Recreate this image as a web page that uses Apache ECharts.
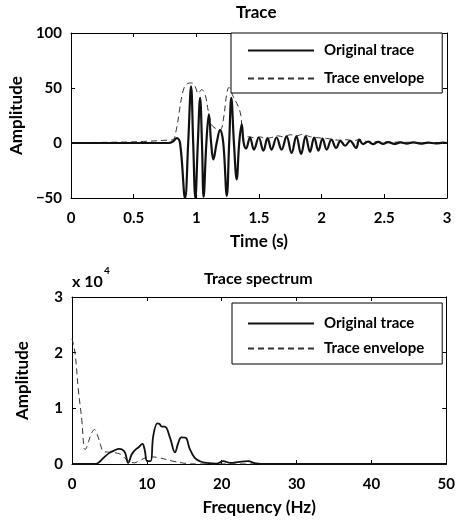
<!DOCTYPE html>
<html>
<head>
<meta charset="utf-8">
<script src="https://cdn.jsdelivr.net/npm/echarts@6/dist/echarts.min.js"></script>
<style>
html,body{margin:0;padding:0;background:#fff;}
#chart{width:458px;height:523px;}
</style>
</head>
<body>
<div id="chart"></div>
<script>
// ---- Top panel: trace (time in s, amplitude) ----
var origTime = [0, 0.78, 0.815, 0.843, 0.87, 0.91, 0.935, 0.958, 0.975, 0.992, 1.012, 1.03, 1.045, 1.058, 1.08, 1.10, 1.118, 1.136, 1.162, 1.19, 1.215, 1.243, 1.262, 1.279, 1.30, 1.322, 1.342, 1.362, 1.378, 1.397, 1.428, 1.46, 1.498, 1.535, 1.568, 1.60, 1.64, 1.68, 1.72, 1.76, 1.798, 1.836, 1.872, 1.907, 1.94, 1.974, 2.007, 2.04, 2.078, 2.115, 2.15, 2.187, 2.227, 2.275, 2.30, 2.33, 2.37, 2.41, 2.45, 2.49, 2.53, 2.58, 2.63, 2.68, 2.73, 2.79, 2.85, 2.91, 2.97, 3.0];
var origAmp = [0, 0, 1.5, 4.5, 0, -50, 0, 51.5, 0, -50, 0, 41, 0, -49, 0, 26, 0, -15, 0, 12, 0, -48, 0, 41, 0, -33, 0, 17, 0, -5, 5, -6, 5, -7, 4.5, -6, 5, -6, 6, -9, 6, -10, 6, -8, 5, -7, 4, -6, 3, -4.5, 2, -2.5, 2, -4.5, 3, -1, 1.2, -1, 1, -0.8, 0.8, -0.8, 0.6, -0.6, 0.5, -0.5, 0.4, -0.4, 0.3, 0];
var envTime = [0, 0.4, 0.6, 0.75, 0.81, 0.84, 0.87, 0.896, 0.923, 0.963, 0.99, 1.016, 1.043, 1.07, 1.096, 1.123, 1.149, 1.19, 1.215, 1.243, 1.26, 1.295, 1.335, 1.355, 1.37, 1.39, 1.43, 1.47, 1.51, 1.55, 1.6, 1.65, 1.7, 1.75, 1.8, 1.85, 1.9, 1.95, 2.0, 2.05, 2.1, 2.15, 2.2, 2.25, 2.3, 2.35, 2.45, 2.6, 2.8, 3.0];
var envAmp = [0.3, 0.8, 1.5, 2.5, 3, 12, 33, 48, 53.6, 54.6, 51.5, 45, 48.5, 44, 28.7, 16.6, 13.6, 12, 21, 45, 50.5, 42, 33, 25, 8, 6, 5.5, 4.5, 5.5, 4, 5, 6.5, 5.5, 7.5, 6.5, 8, 6, 5, 4.5, 4, 3, 2.5, 3, 2, 3, 1.5, 1, 0.8, 0.5, 0.4];

// ---- Bottom panel: spectrum (frequency in Hz, amplitude) ----
var specFreq = [0, 3.0, 3.5, 4.2, 5.0, 5.6, 6.3, 6.7, 7.1, 7.5, 8.0, 8.5, 8.9, 9.4, 9.7, 10.05, 10.5, 10.85, 11.4, 11.7, 12.0, 12.4, 13.1, 13.75, 14.2, 14.6, 15.2, 15.7, 16.4, 17.1, 18.0, 19.3, 20.2, 21.1, 22.4, 23.5, 24.6, 26, 50];
var specOrig = [0, 0, 200, 1100, 2000, 2400, 2700, 2600, 2000, 200, 1800, 2600, 3000, 3600, 2600, 500, 500, 5000, 7300, 7200, 6700, 6700, 4700, 2100, 3800, 4800, 4700, 2800, 1100, 500, 200, 50, 500, 200, 400, 500, 100, 0, 0];
var envFreq = [0, 0.4, 0.85, 1.3, 1.6, 1.75, 2.2, 2.6, 3.0, 3.4, 3.8, 4.2, 5.1, 6.4, 7.3, 8.3, 9.0, 10.4, 11.7, 13.5, 15.3, 17, 50];
var specEnv = [22500, 20000, 13300, 8000, 2900, 2600, 4000, 5500, 6200, 5200, 3500, 2300, 2100, 1800, 800, 200, 600, 1300, 1100, 500, 100, 0, 0];

var yTicksTop = [-50, 0, 50, 100];
var seriesNames = ['Original trace', 'Trace envelope'];

function pairs(xs, ys) { return xs.map(function (x, i) { return [x, ys[i]]; }); }

var FONT = 'Lato';
var txt = { fontFamily: FONT, fontWeight: 'bold', fontSize: 15, color: '#000' };
var nameTxt = { fontFamily: FONT, fontWeight: 'bold', fontSize: 17, color: '#000' };
var axLine = { show: true, onZero: false, lineStyle: { color: '#000', width: 1 } };
var tickIn = { show: true, inside: true, length: 4, lineStyle: { color: '#000', width: 1 } };

function mainX(grid, min, max, interval, name) {
  return { type: 'value', gridIndex: grid, min: min, max: max, interval: interval, position: 'bottom',
    name: name, nameLocation: 'middle', nameGap: 35, nameTextStyle: nameTxt,
    axisLine: axLine, axisTick: tickIn, splitLine: { show: false },
    axisLabel: Object.assign({ margin: 13 }, txt) };
}
function mirrorX(grid, min, max, interval) {
  return { type: 'value', gridIndex: grid, min: min, max: max, interval: interval, position: 'top',
    axisLine: axLine, axisTick: tickIn, splitLine: { show: false }, axisLabel: { show: false } };
}
function mainY(grid, min, max, interval, fmt) {
  return { type: 'value', gridIndex: grid, min: min, max: max, interval: interval, position: 'left',
    name: 'Amplitude', nameLocation: 'middle', nameGap: 41, nameTextStyle: nameTxt,
    axisLine: axLine, axisTick: tickIn, splitLine: { show: false },
    axisLabel: Object.assign({ margin: 9, formatter: fmt }, txt) };
}
function mirrorY(grid, min, max, interval) {
  return { type: 'value', gridIndex: grid, min: min, max: max, interval: interval, position: 'right',
    axisLine: axLine, axisTick: tickIn, splitLine: { show: false }, axisLabel: { show: false } };
}

var legendBase = {
  orient: 'vertical', data: seriesNames, itemWidth: 66, itemHeight: 14,
  borderColor: '#000', borderWidth: 1, backgroundColor: '#fff',
  itemStyle: { opacity: 0, borderWidth: 0 },
  textStyle: Object.assign({ padding: [0, 0, 0, 5] }, txt), selectedMode: false
};

var chart = echarts.init(document.getElementById('chart'), null, { renderer: 'canvas' });
chart.setOption({
  animation: false,
  backgroundColor: '#fff',
  grid: [
    { left: 71, top: 33, width: 376, height: 165 },
    { left: 72, top: 297, width: 375, height: 167 }
  ],
  xAxis: [
    mainX(0, 0, 3, 0.5, 'Time (s)'),
    mirrorX(0, 0, 3, 0.5),
    mainX(1, 0, 50, 10, 'Frequency (Hz)'),
    mirrorX(1, 0, 50, 10)
  ],
  yAxis: [
    mainY(0, yTicksTop[0], yTicksTop[yTicksTop.length - 1], 50, function (v) { return v < 0 ? '\u2212' + Math.abs(v) : String(v); }),
    mirrorY(0, -50, 100, 50),
    mainY(1, 0, 30000, 10000, function (v) { return String(v / 10000); }),
    mirrorY(1, 0, 30000, 10000)
  ],
  legend: [
    Object.assign({}, legendBase, { left: 231, top: 33, itemGap: 13, padding: [10, 18, 7, 16] }),
    Object.assign({}, legendBase, { left: 232, top: 303, itemGap: 10, padding: [13, 18, 8, 15] })
  ],
  graphic: [
    { type: 'text', left: 236, top: 4, style: { text: 'Trace', font: 'bold 17px Lato', fill: '#000' } },
    { type: 'text', left: 204, top: 271, style: { text: 'Trace spectrum', font: 'bold 16px Lato', fill: '#000' } },
    { type: 'text', left: 72, top: 274, style: { text: 'x 10', font: 'bold 16px Lato', fill: '#000' } },
    { type: 'text', left: 104, top: 266, style: { text: '4', font: 'bold 10px Lato', fill: '#000' } }
  ],
  series: [
    { name: seriesNames[0], type: 'line', xAxisIndex: 0, yAxisIndex: 0, data: pairs(origTime, origAmp),
      symbol: 'none', smooth: 0.4, lineStyle: { color: '#111', width: 2.2, type: 'solid' }, itemStyle: { color: '#111' }, z: 3 },
    { name: seriesNames[1], type: 'line', xAxisIndex: 0, yAxisIndex: 0, data: pairs(envTime, envAmp),
      symbol: 'none', smooth: 0.4, lineStyle: { color: '#333', width: 1, type: [6, 4] }, itemStyle: { color: '#333' }, z: 2 },
    { name: seriesNames[0], type: 'line', xAxisIndex: 2, yAxisIndex: 2, data: pairs(specFreq, specOrig),
      symbol: 'none', smooth: 0.4, lineStyle: { color: '#111', width: 1.8, type: 'solid' }, itemStyle: { color: '#111' }, z: 3 },
    { name: seriesNames[1], type: 'line', xAxisIndex: 2, yAxisIndex: 2, data: pairs(envFreq, specEnv),
      symbol: 'none', smooth: 0.4, lineStyle: { color: '#333', width: 1, type: [6, 4] }, itemStyle: { color: '#333' }, z: 2 }
  ]
});
</script>
</body>
</html>
